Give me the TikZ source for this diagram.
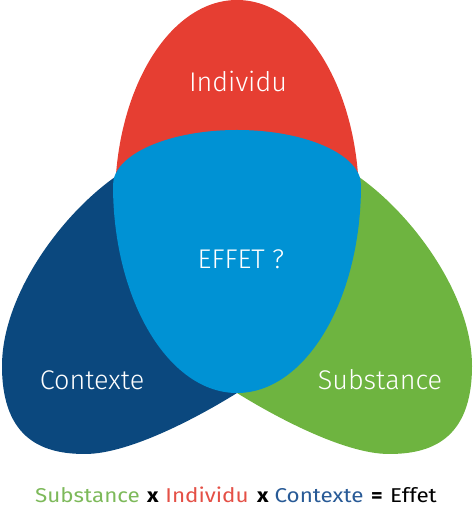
\documentclass[tikz,border=0pt]{standalone}
\usepackage{fontspec}
\setmainfont{Fira Sans}
\newfontfamily\lightfont{Fira Sans Light}
\newfontfamily\widefont{Fira Sans}[FakeStretch=1.12]
\definecolor{cred}{RGB}{230,62,50}
\definecolor{cdark}{RGB}{11,72,126}
\definecolor{clight}{RGB}{0,146,212}
\definecolor{cgreen}{RGB}{110,180,64}
\definecolor{tgreen}{RGB}{125,185,90}
\definecolor{tred}{RGB}{228,80,70}
\definecolor{tblue}{RGB}{40,90,150}
\tikzset{
  lbl/.style={anchor=base, inner sep=0pt, text=white, font=\lightfont\fontsize{27}{30}\selectfont},
  word/.style={anchor=base, inner sep=0pt, text=black, font=\widefont\fontsize{20}{24}\selectfont},
  petal/.pic={\fill[pic actions] (115,329) .. controls (60,290) and (2,210) .. (2,140)
      .. controls (2,65) and (45,52) .. (85,52)
      .. controls (130,52) and (200,90) .. (237,113) -- cycle;}
}
\begin{document}
\begin{tikzpicture}[x=1pt,y=1pt]
\useasboundingbox (0,0) rectangle (474,506);
% red (Individu)
\begin{scope}
\clip (0,250) rectangle (474,506);
\fill[cred] (237,306) ellipse[x radius=122, y radius=200];
\end{scope}
% dark blue (Contexte)
\pic[fill=cdark] {petal};
% green (Substance), mirror image
\pic[fill=cgreen, xshift=474pt, xscale=-1] {petal};
% light blue (Effet)
\fill[clight] (113,321) arc[start angle=180, end angle=0, x radius=124, y radius=55]
  arc[start angle=0, end angle=-180, x radius=124, y radius=208] -- cycle;
% labels
\node[lbl] (individu) at (238,414) {Individu};
\node[lbl] (effet) at (241,237) {EFFET ?};
\node[lbl] (contexte) at (92,116) {Contexte};
\node[lbl] (substance) at (380,116) {Substance};
% formula
\node[word, text=tgreen] (w1) at (87.5,4) {Substance};
\node[word] (w2) at (153,4) {\textbf{x}};
\node[word, text=tred] (w3) at (207,4) {Individu};
\node[word] (w4) at (263,4) {\textbf{x}};
\node[word, text=tblue] (w5) at (319,4) {Contexte};
\node[word] (w6) at (377,4) {\textbf{=}};
\node[word] (w7) at (413.5,4) {Effet};
\end{tikzpicture}
\end{document}
